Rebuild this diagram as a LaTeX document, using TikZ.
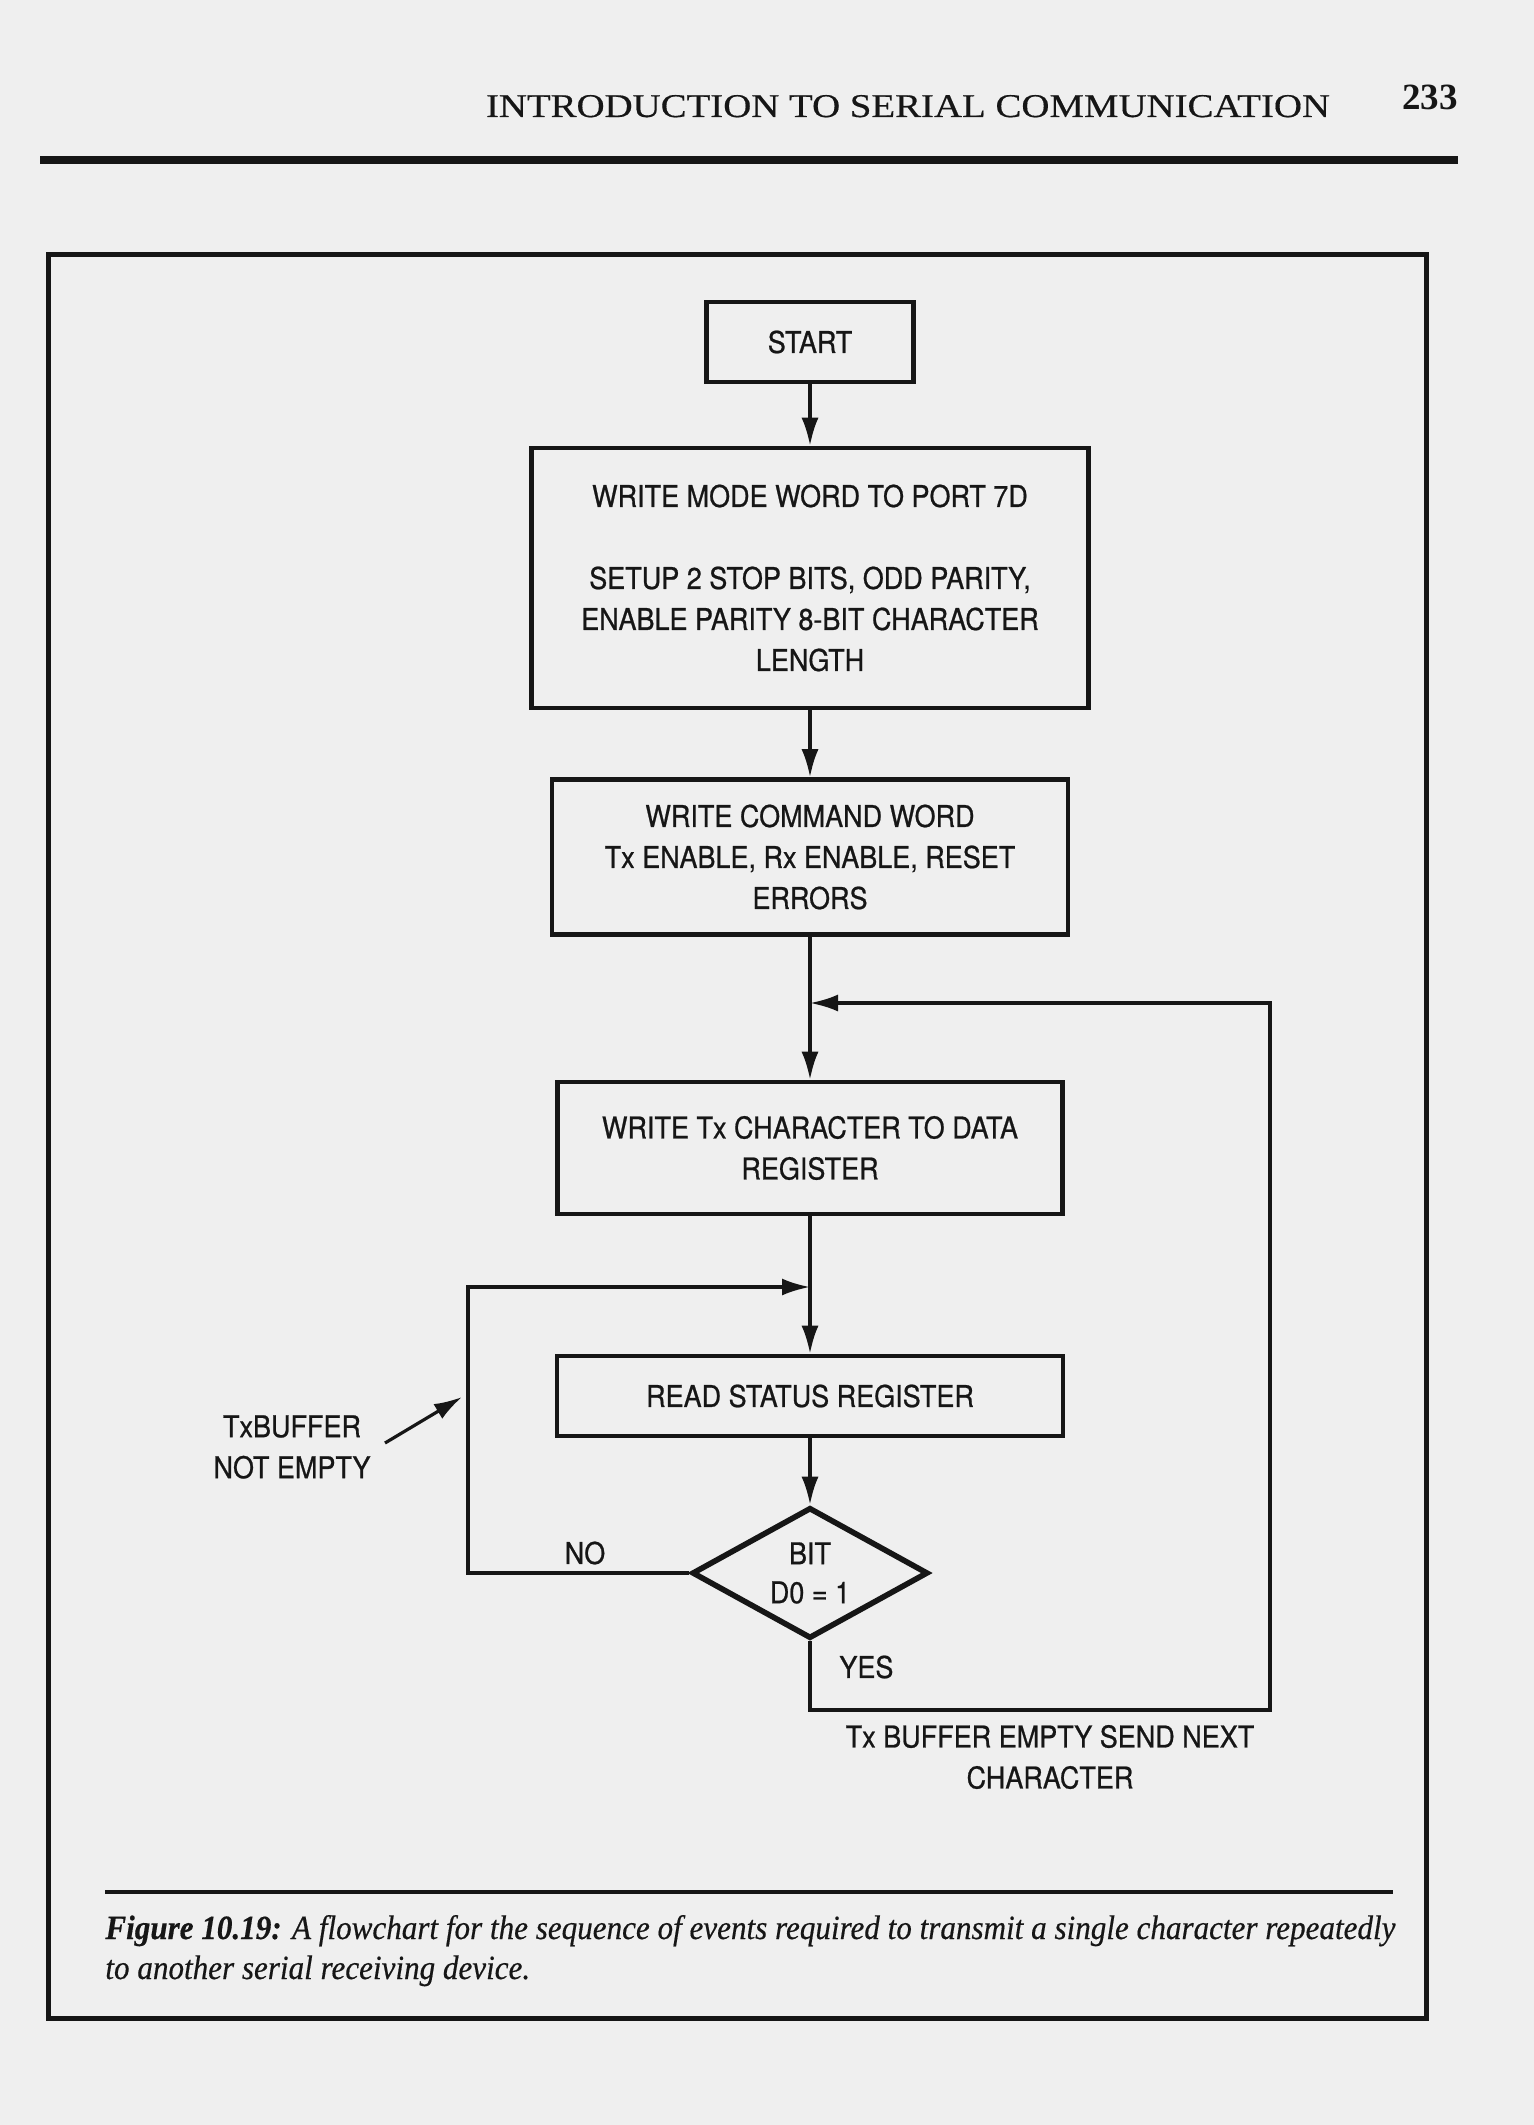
\documentclass[tikz,border=0pt]{standalone}
\usepackage{fontspec}
\usetikzlibrary{shapes.geometric,arrows.meta}
\newfontfamily\flowfont[FakeStretch=0.9,FakeBold=0.7]{TeX Gyre Heros}
\newfontfamily\headfontfam[FakeStretch=1.17,FakeBold=0.4]{Liberation Serif}
\newfontfamily\pagefontfam{Liberation Serif}
\newfontfamily\capfontfam[FakeStretch=0.915,FakeBold=0.4]{Liberation Serif}
\definecolor{paper}{HTML}{EFEFEF}
\definecolor{ink}{HTML}{161616}
\newcommand\flowtxt{\flowfont\fontsize{15pt}{20.5pt}\selectfont}
\begin{document}
\begin{tikzpicture}[x=0.5pt,y=-0.5pt,
  box/.style={draw=ink, line width=2.3pt, inner sep=0pt, align=center, font=\flowtxt, text=ink},
  conn/.style={draw=ink, line width=1.6pt},
  arr/.style={conn, -{Latex[length=14pt,width=8.5pt]}},
  lbl/.style={inner sep=0pt, align=center, font=\flowtxt, text=ink}]
\fill[paper] (0,0) rectangle (1534,2125);
\useasboundingbox (0,0) rectangle (1534,2125);

% page header
\node[anchor=base, inner sep=0pt, text=ink, font=\headfontfam\fontsize{16.6pt}{20pt}\selectfont] (head) at (908,117) {INTRODUCTION TO SERIAL COMMUNICATION};
\node[anchor=base, inner sep=0pt, text=ink, font=\pagefontfam\bfseries\fontsize{18.5pt}{22pt}\selectfont] (pnum) at (1430,110) {233};
\coordinate (r1) at (40,160);
\coordinate (r2) at (1458,160);
\draw[ink, line width=4pt] (r1) -- (r2);

% frame
\coordinate (f1) at (48,254);
\coordinate (f2) at (1426,2018);
\draw[ink, line width=2.5pt] (f1) rectangle (f2);

% flowchart nodes
\node[box, minimum width=103.5pt, minimum height=40pt] (start) at (810,342) {START};
\node[box, minimum width=278.5pt, minimum height=130pt] (mode) at (810,578)
  {WRITE MODE WORD TO PORT 7D\\[20.5pt]SETUP 2 STOP BITS, ODD PARITY,\\ENABLE PARITY 8-BIT CHARACTER\\LENGTH};
\node[box, minimum width=258pt, minimum height=77.5pt] (cmd) at (810,857)
  {WRITE COMMAND WORD\\Tx ENABLE, Rx ENABLE, RESET\\ERRORS};
\coordinate (J1) at (810,1003);
\node[box, minimum width=252.5pt, minimum height=66pt] (wtx) at (810,1148)
  {WRITE Tx CHARACTER TO DATA\\REGISTER};
\coordinate (J2) at (810,1287);
\node[box, minimum width=253pt, minimum height=40pt] (read) at (810,1396) {READ STATUS REGISTER};
\node[box, diamond, aspect=1.8, line width=2.8pt, minimum width=118pt, minimum height=65.5pt] (dia) at (810,1573)
  {BIT\\[-1pt]D0 = 1};

% loop corners
\coordinate (nl) at (468,1287);
\coordinate (yb) at (1270,1710);

% connectors
\draw[arr] (start) -- (mode);
\draw[arr] (mode) -- (cmd);
\draw[conn] (cmd) -- (J1);
\draw[arr] (J1) -- (wtx);
\draw[conn] (wtx) -- (J2);
\draw[arr] (J2) -- (read);
\draw[arr] (read) -- (dia);
\draw[arr] (dia.west) -| (nl) -- (J2);
\draw[arr] (dia.south) |- (yb) |- (J1);

% labels
\node[lbl] (no) at (585,1553) {NO};
\node[lbl, anchor=west] (yes) at (839,1667) {YES};
\node[lbl] (empty) at (1050,1757) {Tx BUFFER EMPTY SEND NEXT\\CHARACTER};
\node[lbl] (notempty) at (292,1447) {TxBUFFER\\NOT EMPTY};
\coordinate (pa) at (385,1443);
\coordinate (pb) at (462,1397);
\draw[arr] (pa) -- (pb);

% caption
\coordinate (c1) at (105,1892);
\coordinate (c2) at (1393,1892);
\draw[ink, line width=2pt] (c1) -- (c2);
\node[anchor=base west, inner sep=0pt, text=ink, font=\capfontfam\itshape\fontsize{17pt}{20pt}\selectfont] (cap1) at (105,1939)
  {\textbf{Figure 10.19:} A flowchart for the sequence of events required to transmit a single character repeatedly};
\node[anchor=base west, inner sep=0pt, text=ink, font=\capfontfam\itshape\fontsize{17pt}{20pt}\selectfont] (cap2) at (105,1979)
  {to another serial receiving device.};
\end{tikzpicture}
\end{document}
